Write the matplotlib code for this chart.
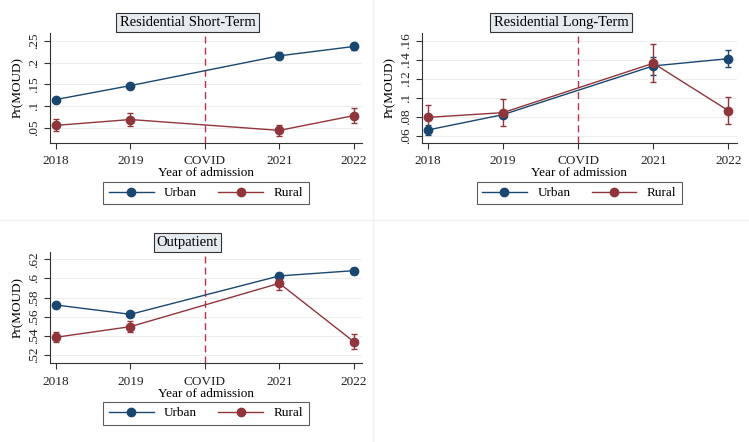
import matplotlib
matplotlib.use('Agg')
import matplotlib.pyplot as plt
from matplotlib.lines import Line2D

plt.rcParams['font.family'] = ['Liberation Serif', 'DejaVu Serif']

years = [2018, 2019, 2021, 2022]
tick_pos = [2018, 2019, 2020, 2021, 2022]
tick_lab = ['2018', '2019', 'COVID', '2021', '2022']

# Residential Short-Term
st_urban = [0.115, 0.147, 0.2155, 0.237]
st_urban_err = [0.003, 0.004, 0.008, 0.007]
st_rural = [0.0555, 0.069, 0.044, 0.078]
st_rural_err = [0.014, 0.0145, 0.013, 0.018]
st_ticks = [0.05, 0.10, 0.15, 0.20, 0.25]
st_labels = ['.05', '.1', '.15', '.2', '.25']

# Residential Long-Term
lt_urban = [0.0663, 0.0824, 0.1335, 0.1411]
lt_urban_err = [0.005, 0.003, 0.0095, 0.009]
lt_rural = [0.0796, 0.0845, 0.1363, 0.0866]
lt_rural_err = [0.013, 0.014, 0.02, 0.014]
lt_ticks = [0.06, 0.08, 0.10, 0.12, 0.14, 0.16]
lt_labels = ['.06', '.08', '.1', '.12', '.14', '.16']

# Outpatient
op_urban = [0.5722, 0.5625, 0.6026, 0.6081]
op_urban_err = [0.002, 0.002, 0.003, 0.003]
op_rural = [0.5385, 0.5496, 0.5949, 0.5339]
op_rural_err = [0.005, 0.006, 0.007, 0.008]
op_ticks = [0.52, 0.54, 0.56, 0.58, 0.60, 0.62]
op_labels = ['.52', '.54', '.56', '.58', '.6', '.62']

navy = '#1a476f'
maroon = '#90353b'
W, H = 749, 442

fig = plt.figure(figsize=(W / 100, H / 100), dpi=100)
fig.patch.set_facecolor('white')


def px_axes(x0, y0, x1, y1):
    return fig.add_axes([x0 / W, 1 - y1 / H, (x1 - x0) / W, (y1 - y0) / H])


def panel(box, title, urban, uerr, rural, rerr, ticks, labels, ylim, pcx, ptop):
    ax = px_axes(*box)
    ax.errorbar(years, urban, yerr=uerr, color=navy, marker='o', ms=6,
                lw=1, capsize=2.5, elinewidth=1, zorder=3)
    ax.errorbar(years, rural, yerr=rerr, color=maroon, marker='o', ms=6,
                lw=1, capsize=2.5, elinewidth=1, zorder=3)
    ax.axvline(2020, color='#c0304a', ls=(0, (5, 3)), lw=1, zorder=2)
    ax.set_xlim(2017.92, 2022.11)
    ax.set_ylim(*ylim)
    ax.set_xticks(tick_pos)
    ax.set_xticklabels(tick_lab, fontsize=9.5)
    ax.set_yticks(ticks)
    ax.set_yticklabels(labels, fontsize=9.5, rotation=90, va='center')
    ax.grid(axis='y', color='#eeeeee', lw=0.8)
    ax.set_axisbelow(True)
    for s in ['top', 'right']:
        ax.spines[s].set_visible(False)
    for s in ['left', 'bottom']:
        ax.spines[s].set_color('#333333')
        ax.spines[s].set_linewidth(0.8)
    ax.tick_params(direction='out', length=4, width=0.8, colors='#333333')
    ax.tick_params(axis='x', pad=5)
    ax.tick_params(axis='y', pad=3)
    ax.tick_params(labelcolor='#222222')
    ax.set_xlabel('Year of admission', fontsize=9.5, labelpad=0)
    ax.set_ylabel('Pr(MOUD)', fontsize=9.5, labelpad=3)
    fig.text(pcx / W, 1 - (ptop + 22.5) / H, title, fontsize=10.5,
             ha='center', va='center',
             bbox=dict(boxstyle='square,pad=0.22', fc='#e6ebef', ec='#333333', lw=0.8))
    handles = [Line2D([], [], color=navy, marker='o', ms=6, lw=1),
               Line2D([], [], color=maroon, marker='o', ms=6, lw=1)]
    leg_cx = (box[0] + box[2]) / 2
    leg = ax.legend(handles, ['Urban', 'Rural'], loc='center',
                    bbox_to_anchor=(leg_cx / W, 1 - (box[3] + 50) / H),
                    bbox_transform=fig.transFigure, ncol=2, fontsize=9.5,
                    frameon=True, fancybox=False, edgecolor='#333333',
                    handlelength=3.4, handletextpad=0.8, columnspacing=1.6,
                    borderpad=0.4)
    leg.get_frame().set_linewidth(0.8)
    return ax


panel((50, 33, 362, 143), 'Residential Short-Term', st_urban, st_urban_err,
      st_rural, st_rural_err, st_ticks, st_labels, (0.015, 0.268), 187.5, 0)
panel((421.7, 33, 736.7, 143), 'Residential Long-Term', lt_urban, lt_urban_err,
      lt_rural, lt_rural_err, lt_ticks, lt_labels, (0.0527, 0.168), 561, 0)
panel((50, 252, 362, 363.3), 'Outpatient', op_urban, op_urban_err,
      op_rural, op_rural_err, op_ticks, op_labels, (0.5113, 0.6276), 187.5, 220)

# faint panel separators
fig.add_artist(Line2D([0, 1], [1 - 220 / H, 1 - 220 / H], color='#f0f0f0', lw=1))
fig.add_artist(Line2D([373 / W, 373 / W], [0, 1], color='#f0f0f0', lw=1))

fig.savefig('out.png', dpi=100)
